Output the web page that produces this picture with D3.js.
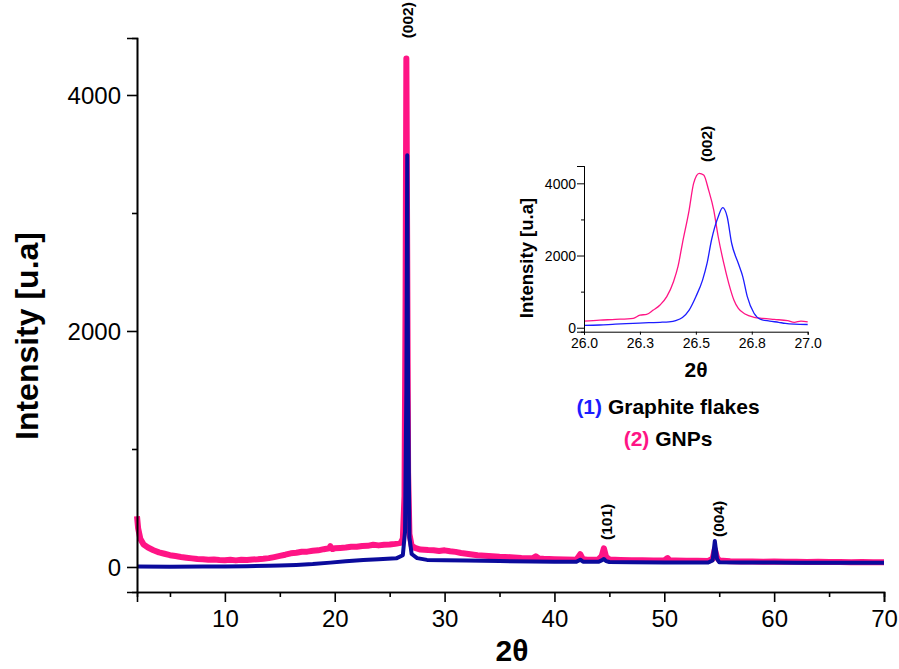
<!DOCTYPE html>
<html>
<head>
<meta charset="utf-8">
<script src="https://cdn.jsdelivr.net/npm/d3@7"></script>
<style>
  html, body { margin: 0; padding: 0; background: #fff; }
  svg { display: block; }
  text { font-family: "Liberation Sans", Arial, sans-serif; }
</style>
</head>
<body>
<svg id="chart" width="899" height="669"></svg>
<script>
// ---- XRD patterns, main panel (2θ in degrees, intensity in a.u.) ----
const gnpTheta = [2.0,2.1,2.3,2.6,3.0,3.5,4.0,4.5,5.0,5.5,6.0,6.5,7.0,7.5,8.0,8.5,9.0,9.5,10.0,10.5,11.0,11.5,12.0,12.5,13.0,13.5,14.0,14.5,15.0,15.5,16.0,16.5,17.0,17.5,18.0,18.5,19.0,19.5,19.6,19.8,20.0,20.5,21.0,21.5,22.0,22.5,23.0,23.5,24.0,24.5,25.0,25.5,26.0,26.2,26.35,26.45,26.52,26.6,26.68,26.8,27.0,27.3,27.8,28.5,29.0,29.5,30.0,30.5,31.0,31.5,32.0,33.0,34.0,35.0,36.0,37.0,38.0,38.3,38.6,39.0,40.0,41.0,42.0,42.35,42.6,43.0,44.0,44.3,44.5,44.7,45.0,46.0,47.0,48.0,49.0,50.0,50.3,50.5,51.0,52.0,53.0,54.0,54.4,54.6,54.8,55.0,56.0,57.0,58.0,59.0,60.0,61.0,62.0,63.0,64.0,65.0,66.0,67.0,68.0,69.0,70.0];
const gnpInt = [430,330,240,190,165,142,124,112,100,93,85,79,73,68,66,61,64,59,58,61,56,62,59,64,65,69,75,84,94,104,116,121,129,130,137,141,151,158,176,152,158,161,165,171,172,178,179,188,183,189,190,196,205,240,600,2300,4310,2600,800,280,180,162,148,143,141,136,141,133,128,119,113,99,94,86,83,77,74,90,72,69,66,63,61,108,65,62,64,92,158,86,64,60,57,58,55,56,76,55,54,52,53,51,70,150,80,55,48,47,46,45,47,44,45,43,44,42,42,41,42,40,40];

const flakeTheta = [2.0,5.0,8.0,10.0,12.0,14.0,15.0,16.5,18.0,19.6,21.0,22.6,24.0,25.6,26.2,26.4,26.52,26.6,26.68,26.8,27.0,27.5,28.4,30.0,32.0,35.0,38.0,40.0,42.0,42.35,42.6,44.0,44.3,44.5,44.7,45.0,47.0,50.0,52.0,54.0,54.4,54.6,54.8,55.0,57.0,60.0,62.0,65.0,68.0,70.0];
const flakeInt = [4,3,4,5,7,10,12,17,25,37,48,59,66,73,100,300,1500,3490,1500,250,110,75,60,58,55,50,47,45,44,62,45,44,56,68,50,42,40,38,37,38,56,220,70,40,38,38,36,36,35,35];

// ---- Inset: zoom on the (002) reflection ----
const insetGnpTheta = [26.0,26.07,26.14,26.22,26.25,26.28,26.31,26.34,26.37,26.40,26.42,26.44,26.47,26.49,26.515,26.535,26.557,26.58,26.60,26.625,26.647,26.67,26.69,26.72,26.76,26.80,26.85,26.91,26.94,26.97,27.0];
const insetGnpInt = [185,212,230,260,350,370,490,630,860,1275,1690,2340,3260,4000,4277,4230,3815,3260,2520,1780,1230,770,535,380,290,260,230,195,150,185,165];
const insetFlakeTheta = [26.0,26.07,26.14,26.22,26.29,26.34,26.38,26.41,26.44,26.47,26.50,26.53,26.55,26.57,26.6,26.62,26.64,26.66,26.69,26.71,26.73,26.76,26.79,26.83,26.87,26.9,26.94,27.0];
const insetFlakeInt = [65,75,100,120,140,150,165,200,285,490,860,1320,1780,2430,3075,3325,3075,2340,1780,1410,860,400,230,185,150,120,100,90];

// ---- Axis ticks and annotations ----
const mainXTicks = [10,20,30,40,50,60,70];
const mainXMinor = [5,15,25,35,45,55,65];
const mainYTicks = [0,2000,4000];
const mainYMinor = [1000,3000];
const insetXTicks = [26.0,26.25,26.5,26.75,27.0];
const insetYTicks = [0,2000,4000];
const insetYMinor = [1000,3000];
const peakLabels = ["(002)","(101)","(004)"];
const peakPositions = [26.55,44.5,54.7];
const peakLabelIntensity = [4480,229,254];
const legendLabels = ["Graphite flakes","GNPs"];
const legendNumbers = ["(1)","(2)"];

const PINK = "#ff1485";
const NAVY = "#0b0b9c";
const BLUE = "#1c1cff";

const svg = d3.select("#chart");

// ---------- main panel ----------
const x = d3.scaleLinear().domain([2,70]).range([137,884]);
const y = d3.scaleLinear().domain([-212,4483]).range([592,38]);

const line = d3.line().x(d => x(d[0])).y(d => y(d[1]));

svg.append("path")
  .datum(d3.zip(gnpTheta, gnpInt))
  .attr("d", line)
  .attr("fill","none").attr("stroke",PINK)
  .attr("stroke-width",6).attr("stroke-linejoin","round");

svg.append("path")
  .datum(d3.zip(flakeTheta, flakeInt))
  .attr("d", line)
  .attr("fill","none").attr("stroke",NAVY)
  .attr("stroke-width",4).attr("stroke-linejoin","round");

// axes
const xAxis = svg.append("g").attr("transform","translate(0,592)")
  .call(d3.axisBottom(x).tickValues(mainXTicks).tickSize(10).tickPadding(8).tickFormat(d3.format("d")));
const xMinor = svg.append("g").attr("transform","translate(0,592)")
  .call(d3.axisBottom(x).tickValues(mainXMinor).tickSize(5).tickFormat(""));
const yAxis = svg.append("g").attr("transform","translate(137,0)")
  .call(d3.axisLeft(y).tickValues(mainYTicks).tickSize(10).tickPadding(6).tickFormat(d3.format("d")));
const yMinor = svg.append("g").attr("transform","translate(137,0)")
  .call(d3.axisLeft(y).tickValues(mainYMinor).tickSize(5).tickFormat(""));

[xAxis,xMinor,yAxis,yMinor].forEach(g => {
  g.select(".domain").attr("stroke","#000").attr("stroke-width",1.6);
  g.selectAll(".tick line").attr("stroke","#000").attr("stroke-width",1.6);
  g.selectAll(".tick text").attr("font-family","'Liberation Sans', Arial, sans-serif")
    .attr("font-size",24).attr("fill","#000");
});
yAxis.selectAll(".tick text").attr("dy","0.35em");

svg.append("text")
  .attr("transform","translate(38,336) rotate(-90)")
  .attr("text-anchor","middle")
  .attr("font-size",32).attr("font-weight","bold")
  .text("Intensity [u.a]");

svg.append("text")
  .attr("x",512).attr("y",661)
  .attr("text-anchor","middle")
  .attr("font-family","'Liberation Serif', 'Times New Roman', serif")
  .attr("font-size",30).attr("font-weight","bold")
  .text("2θ");

// Miller index labels above the reflections
const labelOffsets = [6,8,8];
peakLabels.forEach((lbl,i) => {
  svg.append("text")
    .attr("transform",`translate(${x(peakPositions[i])+labelOffsets[i]},${y(peakLabelIntensity[i])}) rotate(-90)`)
    .attr("text-anchor","start")
    .attr("font-size",15.5).attr("font-weight","bold")
    .text(lbl);
});

// ---------- inset ----------
const xi = d3.scaleLinear().domain([26.0,27.0]).range([584,807.7]);
const yi = d3.scaleLinear().domain([-110,4480]).range([331.7,166]);
const lineI = d3.line().x(d => xi(d[0])).y(d => yi(d[1])).curve(d3.curveMonotoneX);

svg.append("path")
  .datum(d3.zip(insetGnpTheta, insetGnpInt))
  .attr("d", lineI)
  .attr("fill","none").attr("stroke",PINK).attr("stroke-width",1.3);
svg.append("path")
  .datum(d3.zip(insetFlakeTheta, insetFlakeInt))
  .attr("d", lineI)
  .attr("fill","none").attr("stroke",BLUE).attr("stroke-width",1.3);

const xiAxis = svg.append("g").attr("transform","translate(0,331.7)")
  .call(d3.axisBottom(xi).tickValues(insetXTicks).tickSize(3).tickPadding(3).tickFormat(d3.format(".1f")));
const yiAxis = svg.append("g").attr("transform","translate(584,0)")
  .call(d3.axisLeft(yi).tickValues(insetYTicks).tickSize(7).tickPadding(1).tickFormat(d3.format("d")));
const yiMinor = svg.append("g").attr("transform","translate(584,0)")
  .call(d3.axisLeft(yi).tickValues(insetYMinor).tickSize(3).tickFormat(""));
[xiAxis,yiAxis,yiMinor].forEach(g => {
  g.select(".domain").attr("stroke","#000").attr("stroke-width",1);
  g.selectAll(".tick line").attr("stroke","#000").attr("stroke-width",1);
  g.selectAll(".tick text").attr("font-family","'Liberation Sans', Arial, sans-serif")
    .attr("font-size",14).attr("fill","#000");
});
yiAxis.selectAll(".tick text").attr("dy","0.35em");

svg.append("text")
  .attr("transform","translate(533,258) rotate(-90)")
  .attr("text-anchor","middle")
  .attr("font-size",18.5).attr("font-weight","bold")
  .text("Intensity [u.a]");

svg.append("text")
  .attr("x",696).attr("y",377)
  .attr("text-anchor","middle")
  .attr("font-family","'Liberation Serif', 'Times New Roman', serif")
  .attr("font-size",21).attr("font-weight","bold")
  .text("2θ");

svg.append("text")
  .attr("transform",`translate(${xi(26.55)+5},162) rotate(-90)`)
  .attr("text-anchor","start")
  .attr("font-size",15.5).attr("font-weight","bold")
  .text(peakLabels[0]);

// legend
const legendColors = [BLUE, PINK];
const legendY = [414, 446];
legendLabels.forEach((lbl,i) => {
  const t = svg.append("text")
    .attr("x",668).attr("y",legendY[i])
    .attr("text-anchor","middle")
    .attr("font-size",21).attr("font-weight","bold");
  t.append("tspan").attr("fill",legendColors[i]).text(legendNumbers[i]);
  t.append("tspan").attr("fill","#000").text(" " + lbl);
});
</script>
</body>
</html>
